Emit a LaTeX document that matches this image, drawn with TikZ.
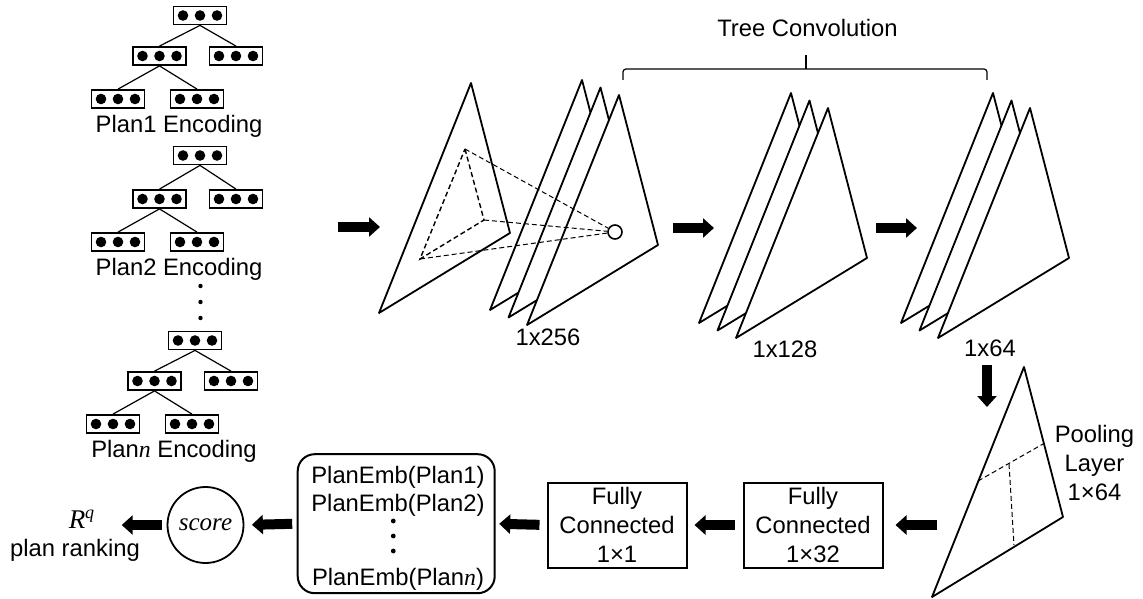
\documentclass[tikz,border=0pt]{standalone}
\usepackage{fontspec}
\setmainfont{Liberation Sans}
\newfontfamily\serifit{Liberation Serif}
\usetikzlibrary{arrows.meta}
\newcommand\vecbox[2]{%
  \node[vbox] (#1) at (#2) {};
  \foreach \dx in {-17,0,17} \fill ([xshift=\dx pt]#1.center) circle[radius=5.3pt];
}
\newcommand\plantree[5]{%
  \begin{scope}[shift={(#2,#3)}]
    \vecbox{#1r}{200,#4}
    \vecbox{#1a}{159.5,56}
    \vecbox{#1b}{236,56}
    \vecbox{#1c}{118,99}
    \vecbox{#1d}{197,99}
    \draw[tedge] (#1r.south) -- (#1a.north);
    \draw[tedge] (#1r.south) -- (#1b.north);
    \draw[tedge] (#1a.south) -- (#1c.north);
    \draw[tedge] (#1a.south) -- (#1d.north);
    \node[anchor=base] (#1t) at (179,132.7) {#5};
  \end{scope}
}
\newcommand\trishape[2]{\filldraw[tri] (#1,#2) -- ++(39,150) -- ++(-131,80) -- cycle;}
\newcommand\itn{{\serifit\itshape n}}
\begin{document}
\begin{tikzpicture}[x=1pt,y=-1pt,
  every node/.style={font=\fontsize{23.8}{28.7}\selectfont, inner sep=0pt},
  vbox/.style={draw, line width=1.8pt, minimum width=53pt, minimum height=18pt},
  tedge/.style={line width=1.2pt},
  tri/.style={draw, fill=white, line width=1.8pt, line join=round},
  dsh/.style={line width=1.2pt, dash pattern=on 5pt off 3pt},
  fat/.style={line width=10pt, -{Triangle[length=11pt,width=19pt]}},
  fcbox/.style={draw, line width=2pt, minimum width=139pt, minimum height=85pt, align=center},
]
\useasboundingbox (0,0) rectangle (1143,599);

% plan encodings
\plantree{p}{0}{0}{15.5}{Plan1 Encoding}
\plantree{q}{0}{143}{12.5}{Plan2 Encoding}
\plantree{s}{-5}{325}{15.5}{Plan\itn\ Encoding}
\foreach \yy in {286,302,318} \fill (200.5,\yy) circle[radius=2.2pt];

% input arrow
\coordinate (a1s) at (338,227); \coordinate (a1e) at (380,227);
\draw[fat] (a1s) -- (a1e);

% input triangle with dashed sub-tree
\trishape{471}{83}
\coordinate (i1) at (465,149);
\coordinate (i2) at (484,220);
\coordinate (i3) at (420,259);
\draw[dsh, line width=1.4pt] (i1) -- (i2) -- (i3) -- cycle;

% 1x256 stack
\trishape{582}{80}
\trishape{600.5}{87.5}
\trishape{619}{95}
\node[draw, circle, fill=white, line width=1.6pt, minimum size=14pt] (cc) at (615,232) {};
\draw[dsh, line width=1pt] (i1) -- (cc);
\draw[dsh, line width=1pt] (i2) -- (cc);
\draw[dsh, line width=1pt] (i3) -- (cc);
\node (l256) at (548,337) {1x256};

% arrow 2
\coordinate (a2s) at (673,228); \coordinate (a2e) at (714,228);
\draw[fat] (a2s) -- (a2e);

% 1x128 stack
\trishape{791}{93}
\trishape{809.5}{100.5}
\trishape{828}{108}
\node (l128) at (785,349) {1x128};

% arrow 3
\coordinate (a3s) at (876,228); \coordinate (a3e) at (917,228);
\draw[fat] (a3s) -- (a3e);

% 1x64 stack
\trishape{993}{93}
\trishape{1011.5}{100.5}
\trishape{1030}{108}
\node (l64) at (990,348.5) {1x64};

% brace
\draw[line width=1.2pt, rounded corners=3pt] (623,80) -- (623,69) -- (987,69) -- (987,80);
\draw[line width=1.2pt] (806,69) -- (806,55);
\node (tc) at (807.5,28.3) {Tree Convolution};

% down arrow
\coordinate (a4s) at (987,365); \coordinate (a4e) at (987,407);
\draw[fat] (a4s) -- (a4e);

% pooling
\trishape{1024}{367}
\draw[dsh, line width=1pt] (978,481) -- (1043,444);
\draw[dsh, line width=1pt] (1009,464) -- (1014,545);
\node[align=center] (pool) at (1094.5,463) {Pooling\\Layer\\1×64};

% fully connected
\node[fcbox] (fc2) at (813,525) {Fully\\Connected\\1×32};
\node[fcbox] (fc1) at (617,525) {Fully\\Connected\\1×1};

% plan embeddings
\node[draw, line width=2pt, rounded corners=17pt, minimum width=197pt, minimum height=139pt] (emb) at (396.2,523.7) {};
\node[anchor=base] (e1) at (398,483.5) {PlanEmb(Plan1)};
\node[anchor=base] (e2) at (398,511.8) {PlanEmb(Plan2)};
\node[anchor=base] (en) at (398,585.2) {PlanEmb(Plan\itn)};
\foreach \yy in {521,536,551} \fill (393.3,\yy) circle[radius=2.4pt];

% score
\node[draw, circle, line width=1.8pt, minimum size=76pt, font=\fontsize{25}{28}\serifit\itshape] (score) at (205.5,525) {score};
\node[anchor=base, font=\fontsize{27}{30}\serifit\itshape] (rq) at (81.5,528) {R\raisebox{10pt}{\fontsize{18}{20}\selectfont q}};
\node[anchor=base] (pr) at (75,556.7) {plan ranking};
\coordinate (rtip) at (121.7,525);

% bottom arrows
\coordinate (p1) at (936.7,525);
\draw[fat, shorten >=12pt] (p1) -- (fc2.east);
\draw[fat, shorten <=8pt, shorten >=7pt] (fc2.west) -- (fc1.east);
\draw[fat, shorten <=7pt, shorten >=3.5pt] (fc1.west) -- (emb.east);
\draw[fat, shorten <=4.5pt, shorten >=7.5pt] (emb.west) -- (score.east);
\draw[fat, shorten <=4.5pt] (score.west) -- (rtip);
\end{tikzpicture}
\end{document}
